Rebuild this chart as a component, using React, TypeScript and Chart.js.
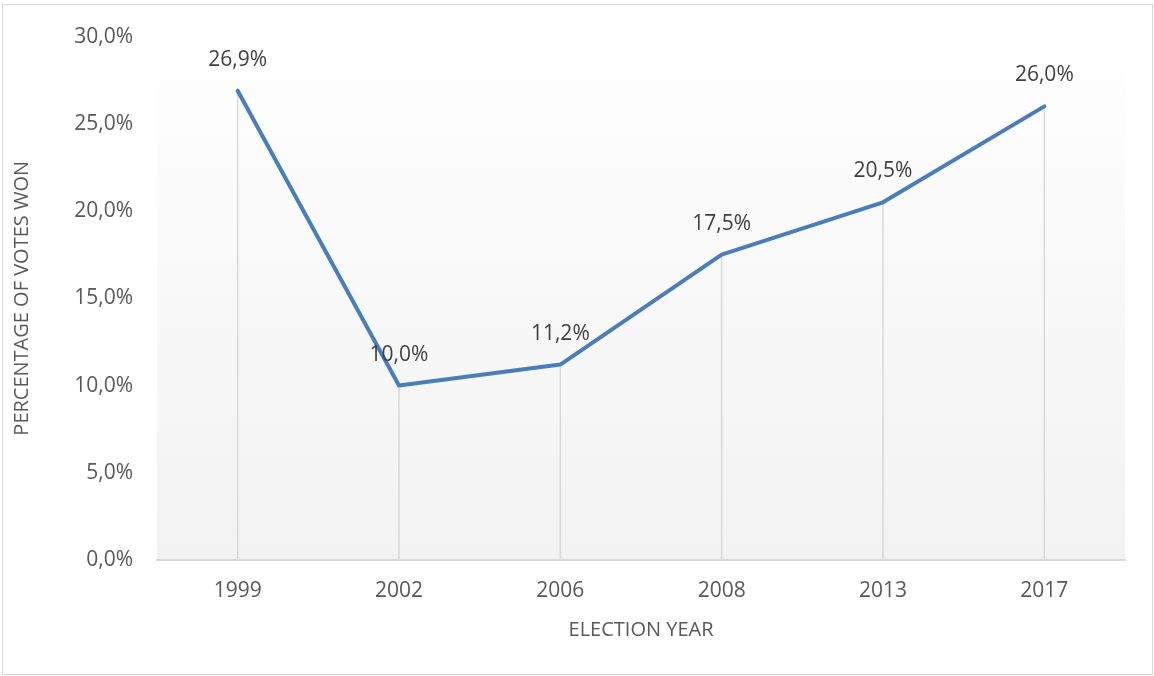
import React, { useEffect, useRef } from "react";
import { Chart, registerables } from "chart.js";

Chart.register(...registerables);

const categories: string[] = ["1999", "2002", "2006", "2008", "2013", "2017"];
const votes: number[] = [26.9, 10.0, 11.2, 17.5, 20.5, 26.0];
const yMin = 0;
const yMax = 30;
const yStep = 5;
const xTitle = "ELECTION YEAR";
const yTitle = "PERCENTAGE OF VOTES WON";

const W = 1154;
const H = 676;
const FONT = "'Open Sans', 'Noto Sans', sans-serif";

const fmt = (v: number) => v.toFixed(1).replace(".", ",") + "%";

const framePlugin = {
  id: "frame",
  beforeDraw(chart: any) {
    const { ctx, chartArea } = chart;
    ctx.save();
    ctx.fillStyle = "#ffffff";
    ctx.fillRect(0, 0, chart.width, chart.height);
    ctx.strokeStyle = "#d9d9d9";
    ctx.lineWidth = 1;
    ctx.strokeRect(2.5, 4.5, 1150, 670);
    const g = ctx.createLinearGradient(0, chartArea.top, 0, chartArea.bottom);
    g.addColorStop(0, "#ffffff");
    g.addColorStop(0.12, "#fdfdfd");
    g.addColorStop(1, "#f2f2f2");
    ctx.fillStyle = g;
    ctx.fillRect(chartArea.left, chartArea.top, chartArea.right - chartArea.left, chartArea.bottom - chartArea.top);
    ctx.restore();
  },
};

const dropLinesPlugin = {
  id: "dropLines",
  beforeDatasetsDraw(chart: any) {
    const { ctx, chartArea } = chart;
    const meta = chart.getDatasetMeta(0);
    ctx.save();
    ctx.strokeStyle = "#d9d9d9";
    ctx.lineWidth = 1.5;
    meta.data.forEach((pt: any) => {
      ctx.beginPath();
      ctx.moveTo(pt.x, pt.y);
      ctx.lineTo(pt.x, chartArea.bottom);
      ctx.stroke();
    });
    ctx.restore();
  },
};

const labelsPlugin = {
  id: "valueLabels",
  afterDatasetsDraw(chart: any) {
    const { ctx } = chart;
    const meta = chart.getDatasetMeta(0);
    ctx.save();
    ctx.fillStyle = "#404040";
    ctx.font = `21px ${FONT}`;
    ctx.textAlign = "center";
    ctx.textBaseline = "middle";
    meta.data.forEach((pt: any, i: number) => {
      ctx.fillText(fmt(votes[i]), pt.x, pt.y - 31);
    });
    ctx.restore();
  },
};

export default function App() {
  const ref = useRef<HTMLCanvasElement | null>(null);

  useEffect(() => {
    if (!ref.current) return;
    const chart = new Chart(ref.current, {
      type: "line",
      data: {
        labels: categories,
        datasets: [
          {
            data: votes,
            borderColor: "#4a7ebb",
            borderWidth: 4,
            pointRadius: 0,
            pointHoverRadius: 0,
            tension: 0,
            fill: false,
            borderJoinStyle: "round",
            borderCapStyle: "round",
          },
        ],
      },
      options: {
        animation: false,
        responsive: false,
        devicePixelRatio: 1,
        events: [],
        layout: { padding: { top: 32, right: 29, left: 0, bottom: 0 } },
        plugins: {
          legend: { display: false },
          tooltip: { enabled: false },
        },
        scales: {
          x: {
            type: "category",
            offset: true,
            grid: { display: false, drawTicks: false },
            border: { display: true, color: "#d9d9d9", width: 2 },
            ticks: {
              color: "#595959",
              font: { family: FONT, size: 21 },
              padding: 18,
              maxRotation: 0,
            },
            title: {
              display: true,
              text: xTitle,
              color: "#595959",
              font: { family: FONT, size: 20 },
              padding: { top: 0, bottom: 34 },
            },
            afterFit(scale: any) {
              scale.height = 116;
            },
          },
          y: {
            type: "linear",
            min: yMin,
            max: yMax,
            grid: { display: false, drawTicks: false },
            border: { display: false },
            ticks: {
              stepSize: yStep,
              color: "#595959",
              font: { family: FONT, size: 21 },
              padding: 24,
              callback: (v: any) => fmt(Number(v)),
            },
            title: {
              display: true,
              text: yTitle,
              color: "#595959",
              font: { family: FONT, size: 20 },
              padding: { top: 10, bottom: 0 },
            },
            afterFit(scale: any) {
              scale.width = 157;
            },
          },
        },
      },
      plugins: [framePlugin, dropLinesPlugin, labelsPlugin],
    });
    return () => chart.destroy();
  }, []);

  return (
    <div style={{ position: "absolute", left: 0, top: 0, width: W, height: H }}>
      <canvas ref={ref} width={W} height={H} style={{ width: W, height: H, display: "block" }} />
    </div>
  );
}
